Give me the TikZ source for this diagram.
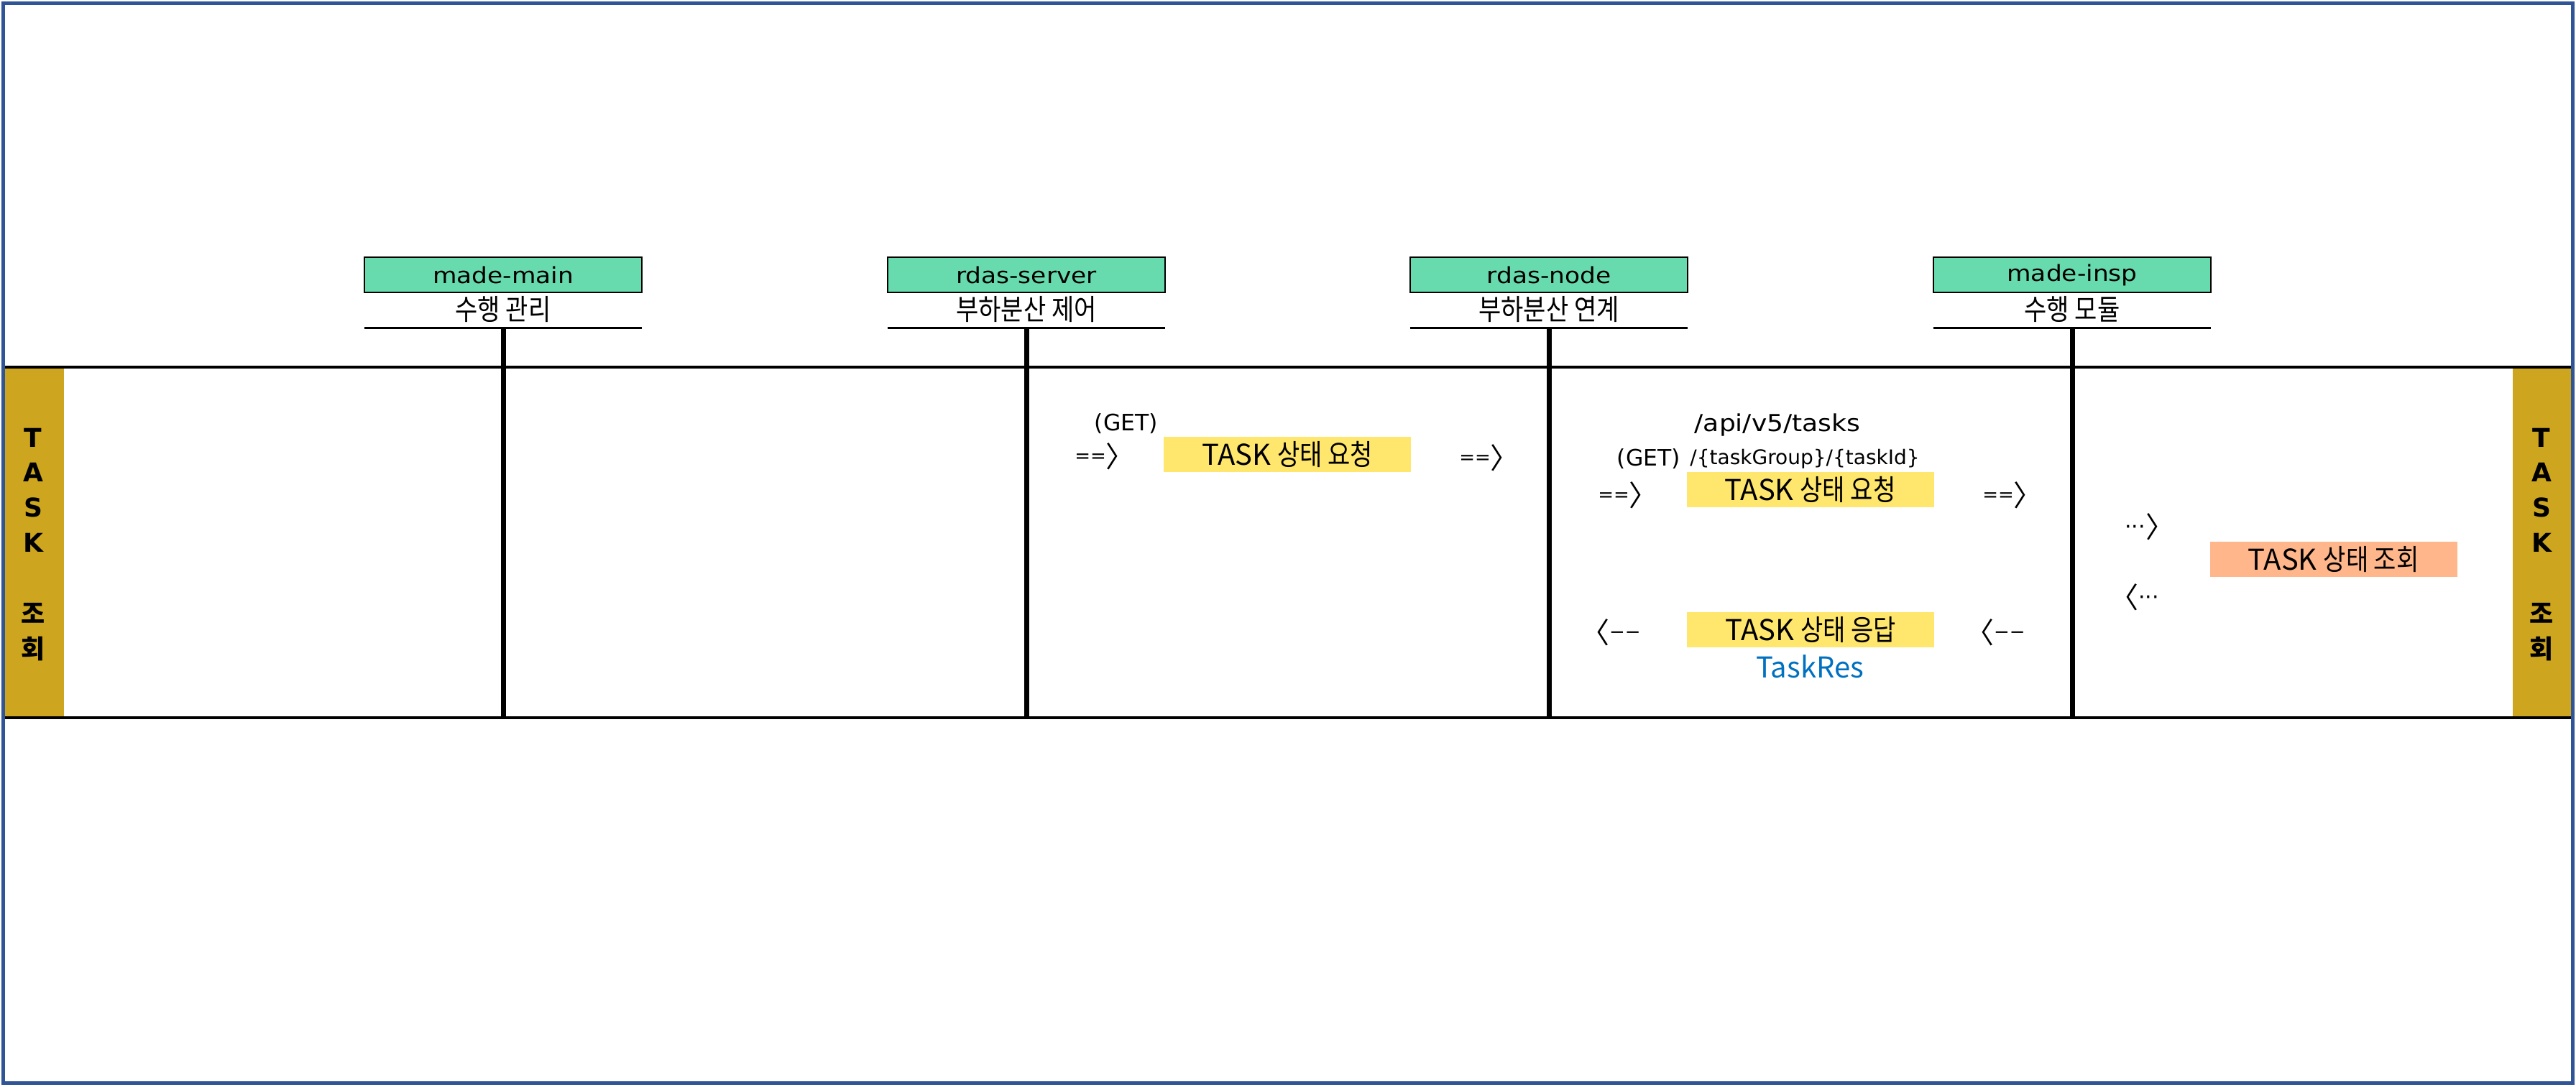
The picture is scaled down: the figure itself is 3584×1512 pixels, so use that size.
\documentclass[tikz,border=0pt]{standalone}
\usepackage{fontspec}
\setmainfont{DejaVu Sans}
\newfontfamily\dv{DejaVu Sans}
\newfontfamily\dvw[FakeStretch=1.11]{DejaVu Sans}
\newfontfamily\krf{Noto Sans CJK KR}
\newfontfamily\krc[FakeStretch=0.85]{Noto Sans CJK KR}
\definecolor{hgreen}{RGB}{103,218,174}
\definecolor{hyellow}{RGB}{255,230,108}
\definecolor{horange}{RGB}{254,182,138}
\definecolor{hgold}{RGB}{205,165,30}
\definecolor{hframe}{RGB}{47,85,151}
\definecolor{hblue}{RGB}{0,112,192}
\newcommand\fsz[1]{\fontsize{#1}{#1}\selectfont}
\newcommand\arR{{\dv\fsz{13}\raisebox{3.5pt}{==}}{\krf\fsz{20}〉}}
\newcommand\arL{{\krf\fsz{20}〈}{\dv\fsz{13}\raisebox{3.5pt}{−−}}}
\newcommand\dtR{{\dv\fsz{15}\raisebox{2.5pt}{···}}{\krf\fsz{20}〉}}
\newcommand\dtL{{\krf\fsz{20}〈}{\dv\fsz{15}\raisebox{2.5pt}{···}}}
\newcommand\tsk[1]{{\krf TASK} {\krc #1}}
\begin{document}
\begin{tikzpicture}[x=0.5pt,y=-0.5pt,
  hdr/.style={draw=black,line width=1.4pt,fill=hgreen,minimum width=193pt,minimum height=24.5pt,inner sep=0pt,font=\dvw\fsz{15.5}},
  sub/.style={minimum width=193pt,minimum height=25pt,inner sep=0pt,font=\krc\fsz{20}},
  uline/.style={line width=1.5pt,black},
  life/.style={line width=3.5pt,black},
  hline/.style={line width=2pt,black},
  ybox/.style={fill=hyellow,minimum width=172pt,minimum height=24.5pt,inner sep=0pt,font=\krf\fsz{20}},
  obox/.style={fill=horange,minimum width=172pt,minimum height=24.5pt,inner sep=0pt,font=\krf\fsz{20}},
  arr/.style={inner sep=0pt},
  gtxt/.style={inner sep=0pt,font=\dv\fsz{15.75}},
  ptxt/.style={inner sep=0pt,font=\dvw\fsz{16.25}},
  ptxtb/.style={inner sep=0pt,font=\dv\fsz{14}},
  restxt/.style={inner sep=0pt,text=hblue,font=\krf\fsz{20}},
  vlet/.style={inner sep=0pt,font=\dv\bfseries\fsz{18}},
  vkr/.style={inner sep=0pt,font=\krf\bfseries\fsz{18}}
]
\useasboundingbox (0,0) rectangle (3584,1512);
% side bands
\fill[hgold] (7,511) rectangle (89,999);
\fill[hgold] (3496,511) rectangle (3577,999);
% participants
\foreach \x/\n/\k/\i in {700/made-main/수행 관리/1,1428/rdas-server/부하분산 제어/2,2155/rdas-node/부하분산 연계/3,2883/made-insp/수행 모듈/4}{
  \node[hdr] (h\i) at (\x,382.5) {\n};
  \node[sub] (s\i) at (\x,431) {\k};
  \draw[uline] (s\i.south west) -- (s\i.south east);
  \coordinate (b\i) at (\x,999);
  \draw[life] (s\i.south) -- (b\i);
}
% horizontal lines
\coordinate (tl) at (7,511); \coordinate (tr) at (3577,511);
\coordinate (bl) at (7,999); \coordinate (br) at (3577,999);
\draw[hline] (tl) -- (tr);
\draw[hline] (bl) -- (br);
% vertical labels
\foreach \c/\y [count=\j] in {T/609,A/657,S/706,K/755}{
  \node[vlet] (lt\j) at (46,\y) {\c};
  \node[vlet] (rt\j) at (3536,\y) {\c};
}
\node[vkr] (lk1) at (46,853) {조};
\node[vkr] (lk2) at (46,903) {회};
\node[vkr] (rk1) at (3536,853) {조};
\node[vkr] (rk2) at (3536,903) {회};
% messages
\node[gtxt] (g1) at (1567,590) {(GET)};
\node[arr,anchor=west] (a1) at (1495,635) {\arR};
\node[ybox] (m1) at (1791,632.5) {\tsk{상태 요청}};
\node[arr,anchor=west] (a2) at (2030,637) {\arR};
\node[ptxt] (p1) at (2473,592) {/api/v5/tasks};
\node[gtxt] (g2) at (2294,639) {(GET)};
\node[ptxtb,anchor=west] (p2) at (2351,639) {/\{taskGroup\}/\{taskId\}};
\node[arr,anchor=west] (a3) at (2223,689) {\arR};
\node[ybox] (m2) at (2518.5,681) {\tsk{상태 요청}};
\node[arr,anchor=west] (a4) at (2758,689) {\arR};
\node[arr,anchor=west] (d1) at (2956,733) {\dtR};
\node[obox] (m4) at (3246.5,778.5) {\tsk{상태 조회}};
\node[arr,anchor=east] (d2) at (3004,831) {\dtL};
\node[arr,anchor=east] (a5) at (2283,880) {\arL};
\node[ybox] (m3) at (2519,876.5) {\tsk{상태 응답}};
\node[arr,anchor=east] (a6) at (2818,880) {\arL};
\node[restxt] (r1) at (2518,928) {TaskRes};
% frame
\draw[hframe,line width=2.5pt] (4.5,4.5) rectangle (3579.5,1507.5);
\end{tikzpicture}
\end{document}
